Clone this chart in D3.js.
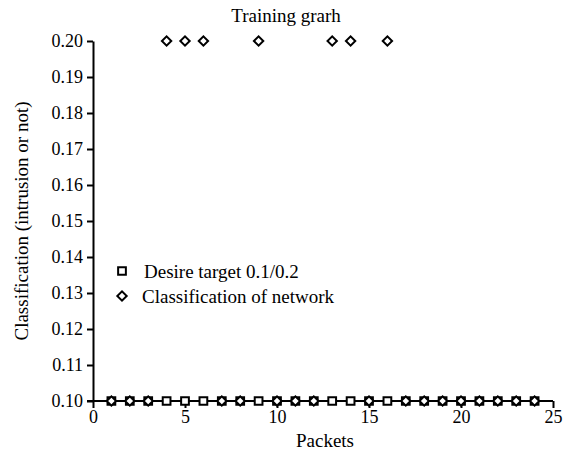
<!DOCTYPE html>
<html>
<head>
<meta charset="utf-8">
<script src="https://cdn.jsdelivr.net/npm/d3@7"></script>
<style>
  body { margin: 0; background: #fff; }
  svg text { font-family: "Liberation Serif", "DejaVu Serif", Times, serif !important; fill: #000; }
</style>
</head>
<body>
<div id="chart"></div>
<script>
// data
const packets = d3.range(1, 25);
const desireTarget = [0.1, 0.1, 0.1, 0.1, 0.1, 0.1, 0.1, 0.1, 0.1, 0.1, 0.1, 0.1,
    0.1, 0.1, 0.1, 0.1, 0.1, 0.1, 0.1, 0.1, 0.1, 0.1, 0.1, 0.1];
const networkOutput = [0.1, 0.1, 0.1, 0.2, 0.2, 0.2, 0.1, 0.1, 0.2, 0.1, 0.1, 0.1,
    0.2, 0.2, 0.1, 0.2, 0.1, 0.1, 0.1, 0.1, 0.1, 0.1, 0.1, 0.1];
const xTicks = [0, 5, 10, 15, 20, 25];
const yTicks = [0.10, 0.11, 0.12, 0.13, 0.14, 0.15, 0.16, 0.17, 0.18, 0.19, 0.20];

const width = 563, height = 454;
const margin = {top: 41, right: 10, bottom: 53, left: 93};
const serif = "Liberation Serif, DejaVu Serif, serif";

const svg = d3.select("#chart").append("svg")
    .attr("width", width)
    .attr("height", height)
    .attr("font-family", serif);

const x = d3.scaleLinear().domain([0, 25]).range([margin.left, 553]);
const y = d3.scaleLinear().domain([0.10, 0.20]).range([height - margin.bottom, margin.top]);

// axes
const xAxis = svg.append("g")
    .attr("transform", `translate(0, ${y(0.10)})`)
    .call(d3.axisBottom(x).tickValues(xTicks).tickSize(7).tickSizeOuter(0).tickPadding(2));
const yAxis = svg.append("g")
    .attr("transform", `translate(${x(0)}, 0)`)
    .call(d3.axisLeft(y).tickValues(yTicks).tickFormat(d3.format(".2f")).tickSize(6).tickSizeOuter(0).tickPadding(4));

[xAxis, yAxis].forEach(a => {
    a.attr("font-family", serif).attr("font-size", 18);
    a.select(".domain").attr("stroke", "#000").attr("stroke-width", 2);
    a.selectAll(".tick line").attr("stroke", "#000").attr("stroke-width", 2);
});
// extend x domain line to the left tick of the y axis
xAxis.select(".domain").attr("d", `M${x(0) - 6},0H${x(25)}`);

// markers
const sq = d3.symbol().type(d3.symbolSquare).size(60);
const dm = d3.symbol().type(d3.symbolSquare).size(44);

svg.append("g").selectAll("path")
    .data(packets.map((p, i) => [p, desireTarget[i]]))
    .join("path")
    .attr("d", sq)
    .attr("transform", d => `translate(${x(d[0])}, ${y(d[1])})`)
    .attr("fill", "#fff")
    .attr("stroke", "#000")
    .attr("stroke-width", 2);

svg.append("g").selectAll("path")
    .data(packets.map((p, i) => [p, networkOutput[i]]))
    .join("path")
    .attr("d", dm)
    .attr("transform", d => `translate(${x(d[0])}, ${y(d[1])}) rotate(45)`)
    .attr("fill", "#fff")
    .attr("stroke", "#000")
    .attr("stroke-width", 2);

// legend
const legend = svg.append("g");
legend.append("path")
    .attr("d", sq)
    .attr("transform", "translate(122, 271)")
    .attr("fill", "#fff").attr("stroke", "#000").attr("stroke-width", 2);
legend.append("text")
    .attr("x", 144).attr("y", 278)
    .attr("font-size", 19)
    .text("Desire target 0.1/0.2");
legend.append("path")
    .attr("d", dm)
    .attr("transform", "translate(122, 296) rotate(45)")
    .attr("fill", "#fff").attr("stroke", "#000").attr("stroke-width", 2);
legend.append("text")
    .attr("x", 142).attr("y", 303)
    .attr("font-size", 19)
    .text("Classification of network");

// titles
svg.append("text")
    .attr("x", 286).attr("y", 22)
    .attr("text-anchor", "middle")
    .attr("font-size", 19)
    .text("Training grarh");
svg.append("text")
    .attr("x", 325).attr("y", 447)
    .attr("text-anchor", "middle")
    .attr("font-size", 19)
    .text("Packets");
svg.append("text")
    .attr("transform", `translate(28, ${(y(0.10) + y(0.20)) / 2}) rotate(-90)`)
    .attr("text-anchor", "middle")
    .attr("font-size", 19)
    .text("Classification (intrusion or not)");
</script>
</body>
</html>
